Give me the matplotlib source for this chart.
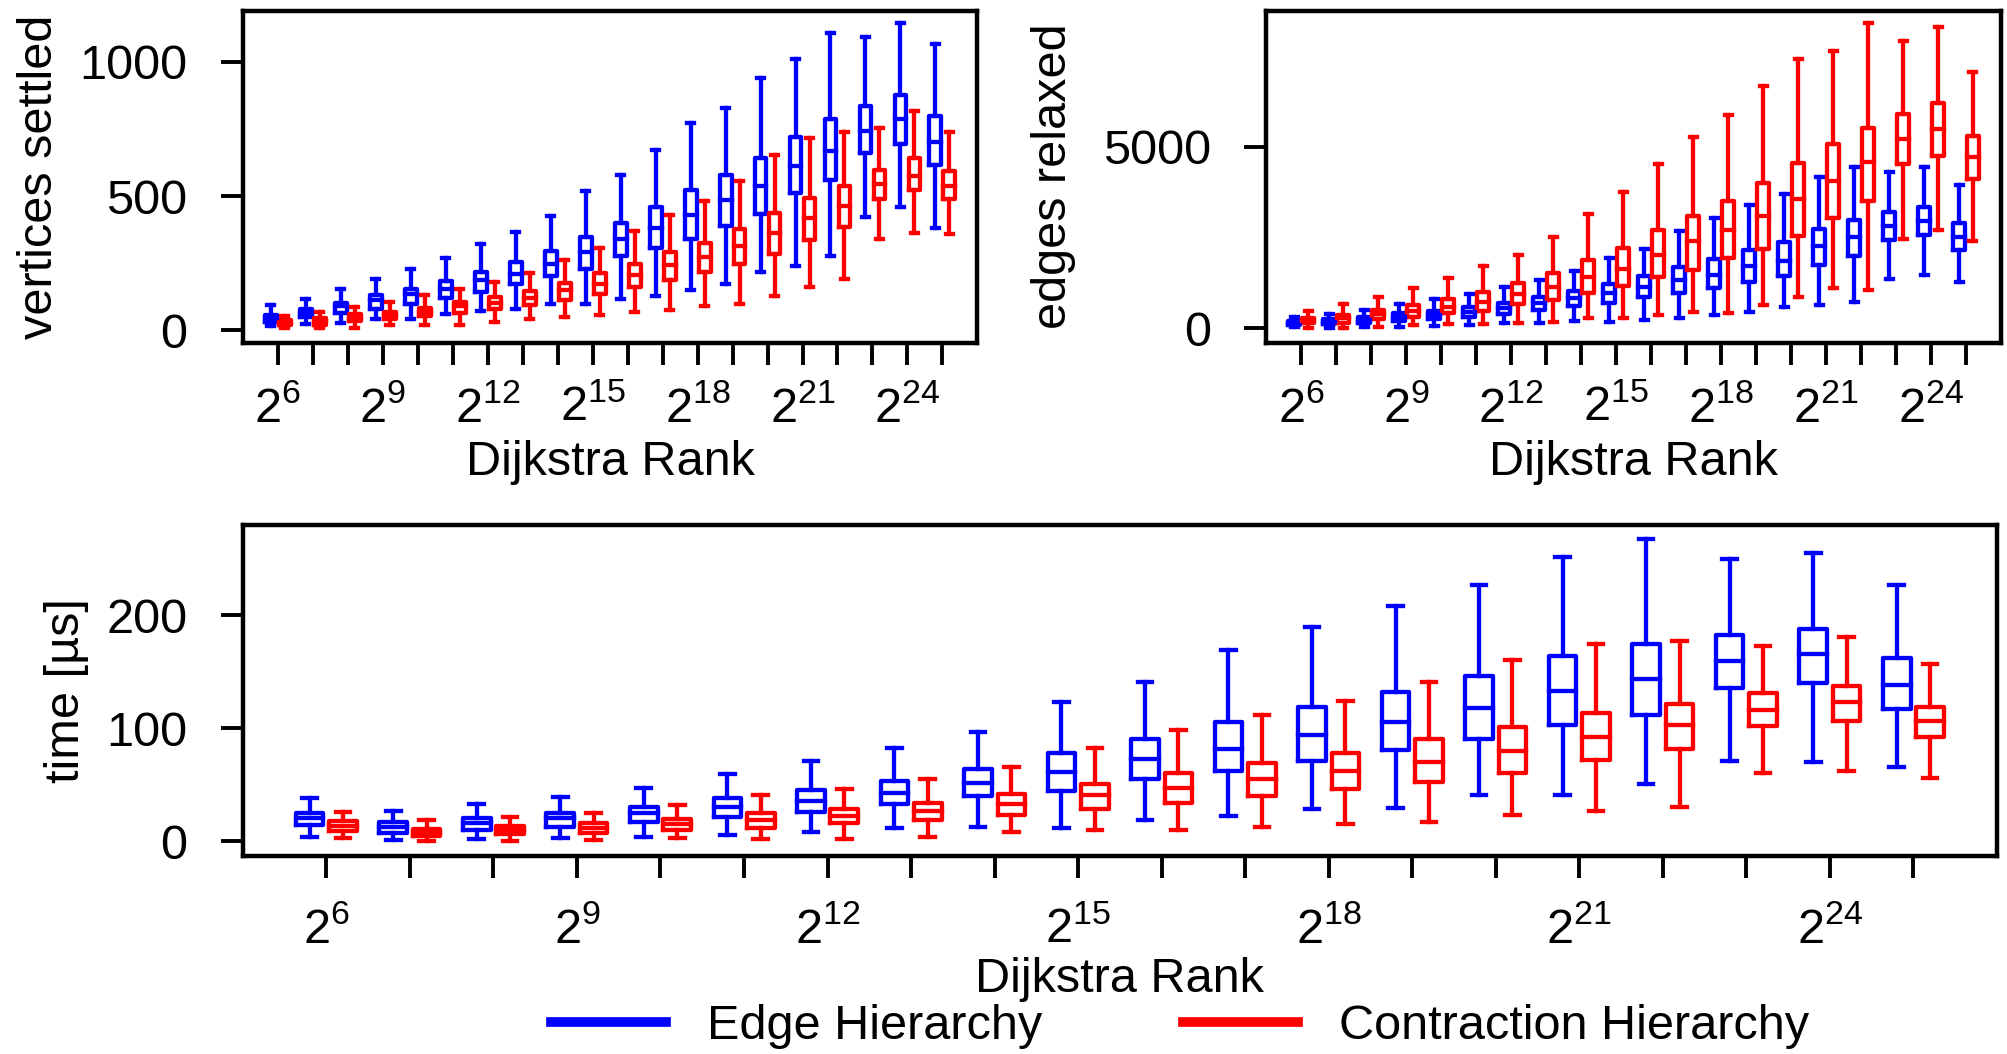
import matplotlib
matplotlib.use("Agg")
import matplotlib.pyplot as plt
from matplotlib.lines import Line2D

plt.rcParams['font.family'] = ['Liberation Sans', 'DejaVu Sans']
plt.rcParams['mathtext.fontset'] = 'custom'
plt.rcParams['mathtext.rm'] = 'Liberation Sans'
plt.rcParams['mathtext.it'] = 'Liberation Sans:italic'
plt.rcParams['mathtext.bf'] = 'Liberation Sans:bold'

FS = 35

# Dijkstra rank exponents (2^6 ... 2^25)
exponents = list(range(6, 26))
tick_labels = [r'$\mathregular{2^{%d}}$' % e if (e - 6) % 3 == 0 else '' for e in exponents]

series_names = ['Edge Hierarchy', 'Contraction Hierarchy']
series_colors = ['#0000ff', '#ff0000']

# ---- vertices settled: whisker low, Q1, median, Q3, whisker high ----
vs_eh_lo = [18, 25, 27, 41, 44, 60, 71, 78, 97, 100, 118, 127, 152, 172, 218, 240, 278, 421, 461, 380]
vs_eh_q1 = [30, 50, 65, 81, 100, 122, 143, 172, 202, 230, 276, 305, 342, 389, 432, 511, 558, 660, 695, 614]
vs_eh_med = [45, 66, 90, 112, 134, 156, 189, 209, 249, 293, 339, 380, 430, 486, 538, 610, 666, 743, 785, 700]
vs_eh_q3 = [58, 81, 102, 131, 153, 184, 218, 253, 296, 349, 398, 461, 521, 579, 641, 720, 785, 834, 875, 799]
vs_eh_hi = [93, 118, 156, 193, 227, 270, 320, 367, 427, 517, 577, 672, 770, 828, 940, 1009, 1108, 1090, 1142, 1067]

vs_ch_lo = [9, 9, 10, 19, 22, 22, 31, 41, 50, 56, 68, 75, 90, 100, 128, 162, 191, 342, 361, 357]
vs_ch_q1 = [19, 22, 34, 44, 52, 65, 81, 96, 112, 137, 162, 189, 218, 249, 286, 336, 386, 488, 521, 489]
vs_ch_med = [29, 35, 46, 56, 68, 90, 102, 121, 152, 174, 205, 243, 274, 314, 361, 417, 463, 544, 573, 539]
vs_ch_q3 = [40, 47, 60, 68, 85, 106, 125, 147, 177, 212, 249, 290, 326, 376, 436, 492, 539, 598, 641, 592]
vs_ch_hi = [54, 68, 87, 106, 131, 156, 181, 214, 262, 308, 370, 430, 483, 557, 654, 716, 737, 753, 816, 737]

# ---- edges relaxed ----
er_eh_lo = [28, 18, 28, 46, 65, 92, 138, 157, 212, 185, 231, 277, 369, 443, 600, 646, 738, 1356, 1476, 1264]
er_eh_q1 = [92, 111, 138, 212, 249, 323, 397, 507, 618, 710, 876, 969, 1107, 1264, 1448, 1753, 1983, 2445, 2583, 2149]
er_eh_med = [157, 185, 231, 323, 369, 461, 553, 692, 849, 969, 1135, 1338, 1476, 1707, 1845, 2260, 2509, 2814, 2952, 2518]
er_eh_q3 = [212, 249, 323, 415, 489, 600, 710, 876, 1042, 1227, 1430, 1679, 1910, 2149, 2371, 2740, 2980, 3201, 3339, 2906]
er_eh_hi = [323, 397, 507, 664, 803, 950, 1153, 1319, 1568, 1937, 2186, 2675, 3044, 3386, 3690, 4179, 4456, 4308, 4456, 3939]

er_ch_lo = [18, 18, 46, 92, 120, 120, 157, 185, 277, 277, 369, 443, 415, 646, 876, 1107, 1061, 2463, 2721, 2398]
er_ch_q1 = [138, 157, 249, 323, 415, 489, 673, 784, 987, 1172, 1411, 1596, 1937, 2186, 2555, 3044, 3506, 4520, 4732, 4105]
er_ch_med = [212, 277, 397, 489, 581, 738, 950, 1153, 1411, 1633, 2030, 2399, 2721, 3090, 3552, 4059, 4585, 5212, 5489, 4705]
er_ch_q3 = [277, 369, 507, 646, 812, 1015, 1245, 1522, 1873, 2214, 2703, 3090, 3506, 3994, 4548, 5074, 5507, 5904, 6199, 5304]
er_ch_hi = [489, 664, 876, 1107, 1384, 1707, 2030, 2509, 3137, 3755, 4520, 5258, 5876, 6670, 7408, 7629, 8395, 7906, 8303, 7057]

# ---- query time [us] ----
tm_eh_lo = [3.8, 0.9, 1.5, 2.4, 3.8, 5.3, 8.0, 11.8, 12.7, 11.8, 18.3, 22.7, 28.7, 29.0, 40.5, 40.5, 50.8, 70.6, 70.0, 65.9]
tm_eh_q1 = [13.9, 7.4, 9.5, 12.7, 16.8, 21.6, 25.7, 32.5, 39.9, 44.3, 55.2, 62.0, 70.9, 80.7, 90.1, 103.1, 111.4, 135.9, 140.3, 116.7]
tm_eh_med = [20.7, 12.7, 16.2, 20.7, 25.1, 30.4, 35.4, 42.8, 51.1, 61.2, 73.0, 81.2, 93.6, 105.8, 117.6, 132.6, 143.9, 159.2, 166.0, 138.0]
tm_eh_q3 = [25.0, 16.8, 20.7, 25.1, 30.1, 38.1, 45.2, 53.2, 64.1, 77.7, 90.7, 105.8, 119.0, 132.0, 146.2, 164.0, 174.9, 182.6, 187.6, 161.9]
tm_eh_hi = [38.4, 26.6, 33.0, 39.3, 46.7, 59.7, 70.9, 82.1, 96.9, 123.2, 140.9, 169.3, 190.0, 208.3, 226.9, 251.7, 267.4, 249.6, 255.5, 226.9]

tm_ch_lo = [3.0, 0.0, 0.0, 0.9, 2.4, 1.5, 1.5, 3.8, 8.0, 9.5, 10.3, 12.4, 14.8, 16.8, 23.6, 26.6, 30.4, 60.6, 62.0, 56.1]
tm_ch_q1 = [8.9, 4.4, 5.9, 7.4, 9.5, 11.8, 15.7, 18.6, 23.6, 28.7, 34.0, 39.9, 46.4, 52.3, 60.6, 71.5, 81.8, 101.9, 106.4, 92.5]
tm_ch_med = [13.3, 7.4, 9.5, 11.8, 14.8, 18.6, 22.2, 26.6, 32.5, 40.5, 47.3, 55.2, 62.0, 70.0, 79.8, 92.5, 102.5, 116.1, 123.5, 106.4]
tm_ch_q3 = [17.7, 10.9, 13.3, 16.2, 19.2, 24.5, 28.7, 34.0, 42.0, 50.8, 60.0, 69.4, 77.7, 90.1, 101.0, 113.7, 121.1, 130.9, 137.4, 119.0]
tm_ch_hi = [25.7, 18.6, 21.6, 25.1, 31.6, 40.5, 45.8, 55.2, 65.9, 82.1, 98.4, 111.4, 123.8, 140.9, 160.1, 174.9, 177.3, 172.8, 181.1, 157.2]


def make_stats(lo, q1, med, q3, hi):
    return [dict(whislo=a, q1=b, med=c, q3=d, whishi=e, fliers=[])
            for a, b, c, d, e in zip(lo, q1, med, q3, hi)]


def draw_panel(ax, groups, ylabel, yticks, ylim, box_w, cap_w, lw,
               xpad, xlabelpad, ylabelpad):
    n = len(exponents)
    offsets = [-0.2, 0.2]
    for stats, color, off in zip(groups, series_colors, offsets):
        line = dict(color=color, linewidth=lw, solid_capstyle='projecting')
        ax.bxp(stats, positions=[i + off for i in range(n)], widths=box_w,
               capwidths=cap_w, showfliers=False, manage_ticks=False,
               boxprops=line, whiskerprops=line, capprops=line,
               medianprops=line)
    ax.set_xlim(-1, n)
    ax.set_ylim(*ylim)
    ax.set_xticks(range(n))
    ax.set_xticklabels(tick_labels)
    ax.set_yticks(yticks)
    ax.set_xlabel('Dijkstra Rank', fontsize=FS, labelpad=xlabelpad)
    ax.set_ylabel(ylabel, fontsize=FS, labelpad=ylabelpad)
    ax.tick_params(axis='x', length=16, width=2.8, pad=xpad, labelsize=FS)
    ax.tick_params(axis='y', length=16, width=2.8, pad=24, labelsize=FS)
    for s in ax.spines.values():
        s.set_linewidth(3.2)


fig = plt.figure(figsize=(20.07, 10.54), dpi=100)
ax_vs = fig.add_axes([0.121, 0.675, 0.366, 0.315])
ax_er = fig.add_axes([0.631, 0.675, 0.366, 0.315])
ax_tm = fig.add_axes([0.121, 0.188, 0.874, 0.314])

draw_panel(ax_vs,
           [make_stats(vs_eh_lo, vs_eh_q1, vs_eh_med, vs_eh_q3, vs_eh_hi),
            make_stats(vs_ch_lo, vs_ch_q1, vs_ch_med, vs_ch_q3, vs_ch_hi)],
           'vertices settled', [0, 500, 1000], (-45, 1190), 0.34, 0.2, 3.1,
           15, 6, 12)
draw_panel(ax_er,
           [make_stats(er_eh_lo, er_eh_q1, er_eh_med, er_eh_q3, er_eh_hi),
            make_stats(er_ch_lo, er_ch_q1, er_ch_med, er_ch_q3, er_ch_hi)],
           'edges relaxed', [0, 5000], (-390, 8750), 0.34, 0.2, 3.1,
           15, 6, 19)
draw_panel(ax_tm,
           [make_stats(tm_eh_lo, tm_eh_q1, tm_eh_med, tm_eh_q3, tm_eh_hi),
            make_stats(tm_ch_lo, tm_ch_q1, tm_ch_med, tm_ch_q3, tm_ch_hi)],
           'time [µs]', [0, 100, 200], (-13, 280), 0.33, 0.175, 3.1,
           21, 3, 12)

handles = [Line2D([], [], color=c, linewidth=7) for c in series_colors]
fig.legend(handles, series_names, loc='center', bbox_to_anchor=(0.588, 0.026),
           ncol=2, frameon=False, fontsize=FS, handlelength=2.37,
           handletextpad=0.84, columnspacing=2.9)

fig.savefig('out.png', dpi=100)
